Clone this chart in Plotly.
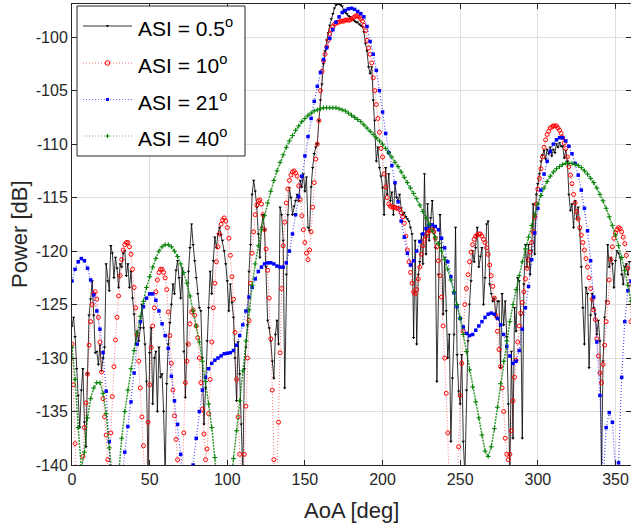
import plotly.graph_objects as go

# ---------------- data ----------------
AOA_1DEG = list(range(0, 361))        # red series grid
AOA_BLACK = list(range(0, 360))       # black series grid
AOA_2DEG = list(range(0, 361, 2))     # blue / green series grid

ASI_05 = [
    -127.0, -126.2, -128.0, -131.0, -133.5, -136.5, -133.0, -131.0, -136.0, -138.3,
    -131.5, -126.0, -124.5, -122.8, -126.0, -129.5, -129.4, -130.6, -128.8, -131.2,
    -130.0, -129.0, -121.2, -122.8, -123.7, -119.5, -120.2, -122.5, -120.6, -121.6,
    -123.4, -121.2, -121.5, -120.2, -120.0, -122.3, -121.2, -123.4, -121.9, -124.4,
    -125.9, -128.7, -127.5, -128.4, -127.2, -125.0, -127.2, -128.7, -132.2, -141.0,
    -129.5, -127.2, -134.3, -130.0, -129.4, -135.0, -129.0, -131.8, -131.5, -135.0,
    -141.0, -132.4, -128.7, -126.7, -125.0, -123.1, -124.0, -121.8, -120.9, -122.5,
    -124.4, -121.6, -129.4, -133.7, -128.7, -121.9, -119.7, -117.5, -119.4, -120.9,
    -122.5, -124.0, -125.3, -125.6, -130.0, -136.2, -132.8, -128.4, -125.3, -121.9,
    -124.0, -120.9, -118.7, -119.7, -118.4, -117.8, -118.5, -119.0, -120.0, -121.2,
    -122.8, -125.6, -123.1, -124.8, -126.2, -130.0, -134.0, -128.5, -131.5, -136.2,
    -141.0, -131.0, -129.0, -126.9, -121.9, -119.4, -114.7, -113.4, -114.4, -115.9,
    -118.4, -120.6, -117.8, -116.6, -118.0, -121.5, -126.5, -127.2, -128.4, -130.3,
    -131.9, -127.8, -126.5, -128.7, -115.9, -116.6, -119.0, -132.8, -122.2, -116.6,
    -114.1, -115.0, -116.6, -115.8, -115.3, -114.7, -115.3, -113.4, -114.0, -112.8,
    -114.4, -113.1, -117.8, -118.1, -114.0, -112.2, -110.9, -110.3, -110.0, -107.8,
    -105.9, -104.4, -102.5, -101.3, -100.3, -99.6, -98.9, -98.3, -97.8, -97.3,
    -97.0, -96.9, -96.9, -97.0, -97.1, -97.5, -97.7, -97.8, -98.0, -98.1,
    -98.3, -98.4, -98.5, -98.6, -98.6, -98.8, -98.9, -99.0, -99.5, -100.6,
    -101.3, -102.8, -103.4, -102.8, -105.9, -107.8, -111.6, -110.3, -112.2, -113.0,
    -114.1, -116.6, -112.2, -114.7, -112.8, -115.3, -114.5, -116.6, -113.7, -115.0,
    -115.3, -114.7, -116.0, -116.6, -116.4, -116.8, -117.0, -117.2, -117.8, -118.4,
    -128.1, -119.0, -128.7, -122.2, -121.0, -118.4, -121.2, -112.8, -120.3, -115.6,
    -119.0, -116.9, -115.3, -117.8, -119.7, -132.2, -122.2, -116.6, -119.7, -125.9,
    -120.6, -125.6, -130.0, -127.8, -137.8, -131.9, -127.8, -117.8, -129.7, -133.1,
    -134.3, -129.7, -137.8, -141.0, -133.0, -128.4, -125.0, -122.8, -120.0, -121.0,
    -119.7, -117.8, -121.5, -120.5, -119.7, -125.0, -122.5, -117.5, -117.2, -123.1,
    -124.0, -124.7, -124.4, -126.2, -124.7, -124.7, -130.9, -124.0, -126.9, -124.7,
    -128.0, -134.3, -140.5, -129.4, -137.5, -125.3, -127.5, -122.5, -122.8, -126.0,
    -137.5, -123.1, -119.4, -121.5, -119.4, -122.2, -120.0, -115.6, -120.3, -114.7,
    -113.7, -112.8, -111.6, -111.0, -110.6, -111.4, -110.5, -110.9, -110.3, -111.1,
    -110.5, -110.8, -110.0, -110.3, -109.9, -110.2, -110.2, -111.3, -110.6, -111.6,
    -114.7, -116.2, -115.6, -117.8, -115.3, -117.0, -115.9, -118.0, -121.5, -125.3,
    -128.7, -123.4, -124.0, -130.9, -126.0, -124.0, -125.3, -125.9, -127.8, -126.5,
    -128.4, -141.0, -130.3, -126.2, -124.7, -119.4, -121.5, -120.6, -121.2, -123.4,
    -120.9, -120.0, -120.2, -120.6, -122.2, -123.1, -121.5, -121.2, -122.2, -121.0,
]

ASI_10 = [
    -128.7, -132.5, -138.0, -146.0, -150.0, -146.0, -141.5, -139.2, -136.5, -134.2,
    -131.5, -128.8, -126.6, -125.0, -124.0, -123.8, -124.5, -126.2, -128.5, -131.3,
    -133.8, -135.5, -137.2, -139.5, -143.0, -137.0, -133.6, -130.8, -128.3, -126.2,
    -124.2, -122.3, -120.8, -119.9, -119.4, -119.2, -119.2, -119.6, -120.3, -121.7,
    -123.4, -125.3, -127.8, -130.3, -132.8, -135.5, -138.2, -141.5, -140.5, -136.0,
    -132.5, -129.0, -127.0, -125.3, -123.8, -122.7, -122.0, -121.7, -121.7, -122.0,
    -122.5, -123.6, -125.7, -127.9, -130.5, -133.0, -135.4, -137.6, -139.5, -142.0,
    -146.0, -142.0, -137.0, -132.3, -130.3, -128.7, -126.8, -125.7, -125.5, -126.0,
    -127.0, -128.1, -130.0, -132.3, -134.8, -137.1, -139.5, -138.5, -135.2, -132.0,
    -128.5, -125.3, -123.0, -121.0, -119.6, -118.4, -117.5, -117.1, -116.9, -117.2,
    -117.8, -118.8, -120.4, -122.4, -124.5, -127.6, -132.0, -135.5, -139.0, -142.0,
    -143.0, -139.0, -134.5, -130.0, -126.5, -123.0, -120.2, -118.2, -116.6, -115.7,
    -115.3, -115.2, -115.6, -116.6, -118.0, -119.8, -121.8, -124.4, -128.2, -133.0,
    -139.5, -145.0, -141.0, -136.0, -129.5, -123.5, -119.5, -117.3, -115.5, -114.2,
    -113.4, -112.9, -112.6, -112.5, -112.7, -113.0, -113.9, -115.2, -116.7, -118.0,
    -119.2, -120.2, -120.8, -119.9, -118.2, -115.9, -113.6, -111.4, -110.0, -107.8,
    -105.0, -103.2, -102.2, -101.6, -100.9, -100.3, -99.7, -99.3, -99.0, -98.8,
    -98.7, -98.6, -98.6, -98.5, -98.5, -98.5, -98.4, -98.4, -98.4, -98.4,
    -98.3, -98.2, -98.1, -98.0, -98.0, -98.1, -98.3, -98.5, -98.9, -99.4,
    -100.3, -101.0, -101.6, -102.4, -103.8, -105.0, -106.3, -107.6, -108.9, -110.4,
    -111.2, -112.8, -114.0, -115.0, -115.6, -115.8, -115.9, -115.9, -115.9, -116.0,
    -116.0, -116.1, -116.4, -116.8, -117.4, -118.6, -119.9, -121.0, -122.0, -123.0,
    -123.8, -124.0, -123.6, -122.6, -121.5, -120.3, -119.5, -119.0, -118.6, -118.3,
    -118.1, -118.0, -118.0, -118.2, -118.8, -119.6, -120.9, -122.3, -124.3, -127.0,
    -130.0, -133.3, -137.0, -143.0, -150.0, -150.0, -148.0, -145.0, -141.5, -138.3,
    -133.5, -130.5, -127.5, -125.0, -123.5, -122.2, -121.0, -120.1, -119.4, -118.9,
    -118.6, -118.5, -118.4, -118.4, -118.6, -118.9, -119.2, -119.7, -120.3, -121.3,
    -122.3, -123.3, -124.4, -126.0, -127.5, -129.2, -130.8, -132.8, -135.0, -137.5,
    -139.0, -139.5, -139.0, -136.8, -134.0, -131.8, -130.2, -128.5, -127.0, -125.8,
    -124.8, -123.8, -122.6, -121.6, -120.8, -120.1, -119.2, -118.2, -116.8, -115.6,
    -114.2, -113.2, -112.3, -111.2, -110.3, -109.6, -109.1, -108.8, -108.5, -108.4,
    -108.3, -108.3, -108.3, -108.5, -108.7, -109.0, -109.4, -109.9, -110.4, -111.2,
    -112.1, -112.9, -113.7, -114.7, -115.5, -116.3, -117.0, -117.8, -118.5, -119.2,
    -119.9, -120.7, -121.5, -122.5, -123.5, -124.5, -125.5, -126.4, -128.2, -129.8,
    -131.4, -132.3, -130.6, -128.8, -126.6, -124.8, -122.7, -120.8, -119.6, -118.8,
    -118.3, -118.0, -117.8, -117.9, -118.2, -118.7, -119.3, -120.4, -121.6, -123.1,
    -126.6,
]

ASI_21 = [
    -122.8, -121.7, -121.0, -120.7, -120.9, -121.6, -122.7, -124.1, -125.6, -127.3,
    -129.5, -133.1, -137.8, -144.0, -150.0, -147.0, -141.5, -138.8, -136.4, -134.1,
    -131.4, -128.7, -126.6, -125.2, -124.4, -124.0, -124.0, -124.6, -125.6, -126.8,
    -127.9, -129.1, -131.7, -134.0, -136.2, -139.0, -142.5, -146.0, -144.5, -140.0,
    -137.5, -135.0, -133.0, -131.8, -131.0, -130.5, -130.2, -130.0, -129.8, -129.6,
    -129.55, -129.5, -129.3, -128.8, -127.9, -126.9, -125.6, -124.3, -123.4, -122.6,
    -121.9, -121.5, -121.2, -121.1, -121.1, -121.2, -121.4, -121.5, -121.5, -121.1,
    -120.0, -118.4, -116.6, -114.9, -113.0, -111.1, -109.3, -107.6, -106.0, -104.6,
    -103.3, -102.1, -101.0, -100.1, -99.3, -98.6, -98.1, -97.7, -97.5, -97.35,
    -97.3, -97.4, -97.6, -97.8, -98.1, -99.0, -100.4, -101.6, -103.1, -105.0,
    -107.0, -109.0, -110.8, -112.0, -113.6, -115.4, -117.2, -118.7, -120.2, -121.3,
    -120.9, -120.0, -119.1, -118.4, -117.9, -117.65, -117.55, -117.7, -118.0, -118.8,
    -119.7, -121.0, -122.4, -123.9, -125.2, -126.3, -127.1, -127.7, -127.9, -127.8,
    -127.4, -127.0, -126.6, -126.2, -125.9, -125.8, -125.9, -126.3, -126.9, -127.8,
    -128.9, -129.8, -130.5, -130.3, -129.3, -127.3, -125.3, -123.3, -120.8, -118.3,
    -116.0, -114.3, -112.8, -111.6, -110.7, -110.0, -109.6, -109.4, -109.4, -109.7,
    -110.2, -110.9, -111.8, -112.9, -114.3, -116.0, -118.1, -120.9, -124.3, -128.5,
    -133.5, -141.5, -136.5, -135.1, -136.0, -140.5, -139.8, -131.8, -126.6, -123.7,
    -122.8,
]

ASI_40 = [
    -129.0, -132.0, -136.5, -140.3, -138.8, -135.6, -133.8, -132.8, -132.3, -132.3,
    -133.3, -135.2, -138.4, -142.0, -144.0, -141.0, -137.5, -135.0, -133.0, -131.0,
    -129.3, -127.7, -126.1, -124.7, -123.4, -122.4, -121.5, -120.7, -120.0, -119.6,
    -119.4, -119.4, -119.6, -120.0, -120.5, -121.2, -122.0, -123.0, -124.2, -125.6,
    -127.0, -128.5, -130.3, -132.2, -134.3, -136.5, -139.3, -142.5, -146.0, -148.0,
    -146.0, -142.5, -139.4, -136.8, -134.0, -131.2, -128.4, -125.5, -123.2, -121.2,
    -119.5, -118.0, -116.7, -115.5, -114.4, -113.4, -112.5, -111.7, -111.0, -110.3,
    -109.7, -109.2, -108.7, -108.3, -107.9, -107.6, -107.3, -107.1, -106.9, -106.8,
    -106.7, -106.6, -106.6, -106.6, -106.6, -106.6, -106.7, -106.8, -106.9, -107.1,
    -107.3, -107.5, -107.7, -107.9, -108.2, -108.5, -108.8, -109.1, -109.4, -109.7,
    -110.0, -110.4, -110.8, -111.2, -111.7, -112.1, -112.6, -113.1, -113.6, -114.1,
    -114.6, -115.1, -115.7, -116.3, -116.9, -117.5, -118.1, -118.7, -119.3, -120.0,
    -120.8, -121.7, -122.7, -123.8, -125.0, -126.3, -127.8, -129.4, -131.1, -132.7,
    -134.1, -135.6, -137.2, -138.7, -139.2, -138.3, -136.6, -134.6, -132.4, -130.3,
    -128.4, -126.6, -125.0, -123.6, -122.3, -121.0, -119.8, -118.7, -117.6, -116.6,
    -115.6, -114.8, -114.1, -113.5, -113.0, -112.6, -112.3, -112.1, -111.9, -111.8,
    -111.8, -111.8, -111.9, -112.0, -112.2, -112.5, -112.8, -113.2, -113.6, -114.1,
    -114.7, -115.3, -116.0, -116.8, -117.6, -118.5, -119.5, -120.6, -121.8, -123.2,
    -124.7,
]

SERIES_NAMES = ["ASI = 0.5<sup>o</sup>", "ASI = 10<sup>o</sup>",
                "ASI = 21<sup>o</sup>", "ASI = 40<sup>o</sup>"]
X_TICKS = [0, 50, 100, 150, 200, 250, 300, 350]
Y_TICKS = [-140, -135, -130, -125, -120, -115, -110, -105, -100]
X_TITLE = "AoA [deg]"
Y_TITLE = "Power [dB]"

FONT = "Liberation Sans, Arial, Helvetica, sans-serif"
AX = "#262626"

# ---------------- figure geometry ----------------
W, H = 631, 527
ML, MR, MT, MB = 72, 0, 4, 62
PW, PH = W - ML - MR, H - MT - MB


def px_x(px):
    return (px - ML) / PW


def px_y(py):
    return 1 - (py - MT) / PH


STYLE = [
    dict(line=dict(color="black", width=0.8),
         marker=dict(symbol="triangle-down", size=3, color="black")),
    dict(line=dict(color="rgba(255,0,0,0.55)", width=1, dash="1px,2px"),
         marker=dict(symbol="circle-open", size=4, color="#ff0000",
                     line=dict(width=1, color="#ff0000"))),
    dict(line=dict(color="rgba(0,0,255,0.7)", width=1.2, dash="1px,2px"),
         marker=dict(symbol="square", size=3.5, color="#0000ff")),
    dict(line=dict(color="rgba(0,128,0,0.8)", width=1.5, dash="2px,1px"),
         marker=dict(symbol="cross-thin", size=3.5, color="#008000",
                     line=dict(width=1, color="#008000"))),
]

fig = go.Figure()
for xs, ys, name, st in zip([AOA_BLACK, AOA_1DEG, AOA_2DEG, AOA_2DEG],
                            [ASI_05, ASI_10, ASI_21, ASI_40],
                            SERIES_NAMES, STYLE):
    fig.add_trace(go.Scatter(x=xs, y=ys, name=name, mode="lines+markers",
                             showlegend=False, hoverinfo="skip", **st))

# ---------------- MATLAB-style legend box ----------------
shapes = []
annotations = []
BOX = (77, 245, 6, 156)
shapes.append(dict(type="rect", xref="paper", yref="paper",
                   x0=px_x(BOX[0]), x1=px_x(BOX[1]), y0=px_y(BOX[3]), y1=px_y(BOX[2]),
                   line=dict(color=AX, width=1), fillcolor="white", layer="above"))
ROWS = [26, 63, 99.5, 136]
LINE_X = (83, 132)
MX = (LINE_X[0] + LINE_X[1]) / 2
LEG_LINE = [dict(color="black", width=0.8),
            dict(color="rgba(255,0,0,0.55)", width=1, dash="1px,2px"),
            dict(color="rgba(0,0,255,0.6)", width=1, dash="1px,2px"),
            dict(color="rgba(0,128,0,0.6)", width=1, dash="1px,2px")]
for i, row in enumerate(ROWS):
    shapes.append(dict(type="line", xref="paper", yref="paper",
                       x0=px_x(LINE_X[0]), x1=px_x(LINE_X[1]),
                       y0=px_y(row), y1=px_y(row), layer="above",
                       line=LEG_LINE[i]))
    common = dict(xref="paper", yref="paper", xsizemode="pixel", ysizemode="pixel",
                  xanchor=px_x(MX), yanchor=px_y(row), layer="above")
    if i == 0:
        shapes.append(dict(type="path", path="M-1.5,1 L1.5,1 L0,-1.5 Z",
                           fillcolor="black", line=dict(width=0), **common))
    elif i == 1:
        shapes.append(dict(type="circle", x0=-2.3, x1=2.3, y0=-2.3, y1=2.3,
                           line=dict(color="#ff0000", width=1), **common))
    elif i == 2:
        shapes.append(dict(type="rect", x0=-1.5, x1=1.5, y0=-1.5, y1=1.5,
                           fillcolor="#0000ff", line=dict(width=0), **common))
    else:
        shapes.append(dict(type="line", x0=-2, x1=2, y0=0, y1=0,
                           line=dict(color="#008000", width=1), **common))
        shapes.append(dict(type="line", x0=0, x1=0, y0=-2, y1=2,
                           line=dict(color="#008000", width=1), **common))
    annotations.append(dict(xref="paper", yref="paper", x=px_x(136), y=px_y(row + 1),
                            xanchor="left", yanchor="middle", showarrow=False,
                            text=SERIES_NAMES[i],
                            font=dict(family=FONT, size=21, color="black")))

# axis titles (placed as in the reference)
annotations.append(dict(xref="paper", yref="paper", x=px_x(351.5), y=px_y(510),
                        xanchor="center", yanchor="middle", showarrow=False,
                        text=X_TITLE, font=dict(family=FONT, size=22, color=AX)))
annotations.append(dict(xref="paper", yref="paper", x=px_x(19), y=px_y(234),
                        xanchor="center", yanchor="middle", showarrow=False,
                        textangle=-90,
                        text=Y_TITLE, font=dict(family=FONT, size=22, color=AX)))

fig.update_layout(
    width=W, height=H,
    margin=dict(l=ML, r=MR, t=MT, b=MB, autoexpand=False),
    paper_bgcolor="white", plot_bgcolor="white",
    font=dict(family=FONT, color=AX, size=16),
    showlegend=False,
    hovermode=False,
    shapes=shapes,
    annotations=annotations,
    xaxis=dict(
        range=[0, 360], tickvals=X_TICKS, ticktext=[str(v) for v in X_TICKS],
        showgrid=True, gridcolor="#dfdfdf", gridwidth=1,
        showline=True, linecolor=AX, linewidth=1, mirror="ticks",
        ticks="inside", ticklen=5, tickcolor=AX,
        zeroline=False, automargin=False,
        tickfont=dict(size=16, family=FONT, color=AX),
    ),
    yaxis=dict(
        range=[-140, -96.9], tickvals=Y_TICKS, ticktext=[str(v) for v in Y_TICKS],
        showgrid=True, gridcolor="#dfdfdf", gridwidth=1,
        showline=True, linecolor=AX, linewidth=1, mirror="ticks",
        ticks="inside", ticklen=5, tickcolor=AX,
        zeroline=False, automargin=False,
        tickfont=dict(size=16, family=FONT, color=AX),
    ),
)

# the page's default 8px body margin would shift the 631x527 figure; remove it
fig.write_html("out.html",
               config={"displayModeBar": False, "staticPlot": True},
               post_script="document.body.style.margin='0';document.body.style.padding='0';")
